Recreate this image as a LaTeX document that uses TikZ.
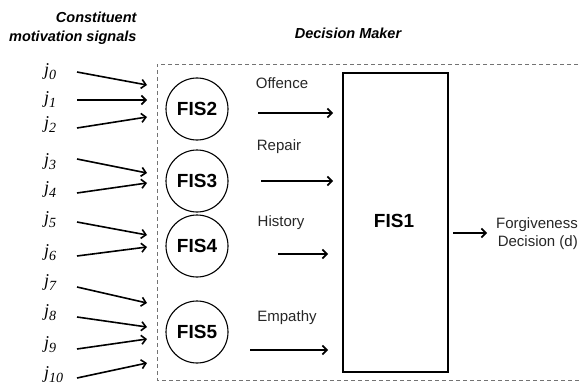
\documentclass[tikz,border=0pt]{standalone}
\usepackage{fontspec}
\setmainfont{Liberation Sans}
\newfontfamily\jfont{Liberation Serif}
\usetikzlibrary{arrows.meta}
\begin{document}
\begin{tikzpicture}[x=1pt,y=-1pt,
  arr/.style={line width=1.6pt,-{Straight Barb[length=4.5pt,width=9pt,line width=1.6pt]}},
  fis/.style={circle,draw,line width=1.1pt,minimum size=62pt,inner sep=0pt,font=\bfseries\fontsize{19}{19}\selectfont},
  lab/.style={font=\fontsize{15}{15}\selectfont,text=black!85},
  jlab/.style={anchor=west,inner sep=0pt,font=\jfont\itshape\fontsize{18}{18}\selectfont},
  title/.style={font=\bfseries\itshape\fontsize{14.5}{19}\selectfont}]
\useasboundingbox (0,0) rectangle (580,385);
% titles
\node[title,anchor=east,align=right] (t1) at (140,28) {Constituent\\motivation signals};
\node[title] (t2) at (348,33) {Decision Maker};
% dashed frame
\draw[dashed,black!55,line width=0.7pt,dash pattern=on 4pt off 3pt] (585,64) -- (157,64) -- (157,380) -- (585,380);
% input labels and arrows
\foreach \i/\ly/\sy/\ey in {0/72/72/85, 1/100/100/100, 2/125/128/117, 3/162/159/173, 4/190/193/183, 5/220/222/235, 6/253/256/247, 7/283/287/303, 8/313/317/327, 9/345/349/339, 10/375/378/363}{
  \node[jlab] (j\i) at (44,\ly) {j\raisebox{-4pt}{\fontsize{14}{14}\selectfont\i}};
  \coordinate (s\i) at (77,\sy);
  \coordinate (e\i) at (147,\ey);
  \draw[arr] (s\i) -- (e\i);
}
% FIS circles
\node[fis] (f2) at (197,109) {FIS2};
\node[fis] (f3) at (197,181) {FIS3};
\node[fis] (f4) at (197,246) {FIS4};
\node[fis] (f5) at (197,332) {FIS5};
% FIS1 box
\node[draw,line width=1.5pt,minimum width=105pt,minimum height=299pt,inner sep=0pt] (f1) at (395.5,222.5) {};
\node[font=\bfseries\fontsize{19}{19}\selectfont] (f1t) at (394,221) {FIS1};
% middle labels and arrows
\node[lab] (lo) at (282,83) {Offence};
\node[lab] (lr) at (279,147) {Repair};
\node[lab] (lh) at (281,223) {History};
\node[lab] (le) at (287,318) {Empathy};
\coordinate (oa) at (258,113); \coordinate (ob) at (333,113);
\coordinate (ra) at (261,181); \coordinate (rb) at (333,181);
\coordinate (ha) at (278,254); \coordinate (hb) at (328,254);
\coordinate (ea) at (250,350); \coordinate (eb) at (328,350);
\draw[arr] (oa) -- (ob);
\draw[arr] (ra) -- (rb);
\draw[arr] (ha) -- (hb);
\draw[arr] (ea) -- (eb);
% output
\node[lab,anchor=east,align=right,inner sep=0pt,font=\fontsize{15}{18}\selectfont] (out) at (578,234) {Forgiveness\\Decision (d)};
\coordinate (oo) at (453,233);
\coordinate (oe) at (487,233);
\draw[arr] (oo) -- (oe);
\end{tikzpicture}
\end{document}
